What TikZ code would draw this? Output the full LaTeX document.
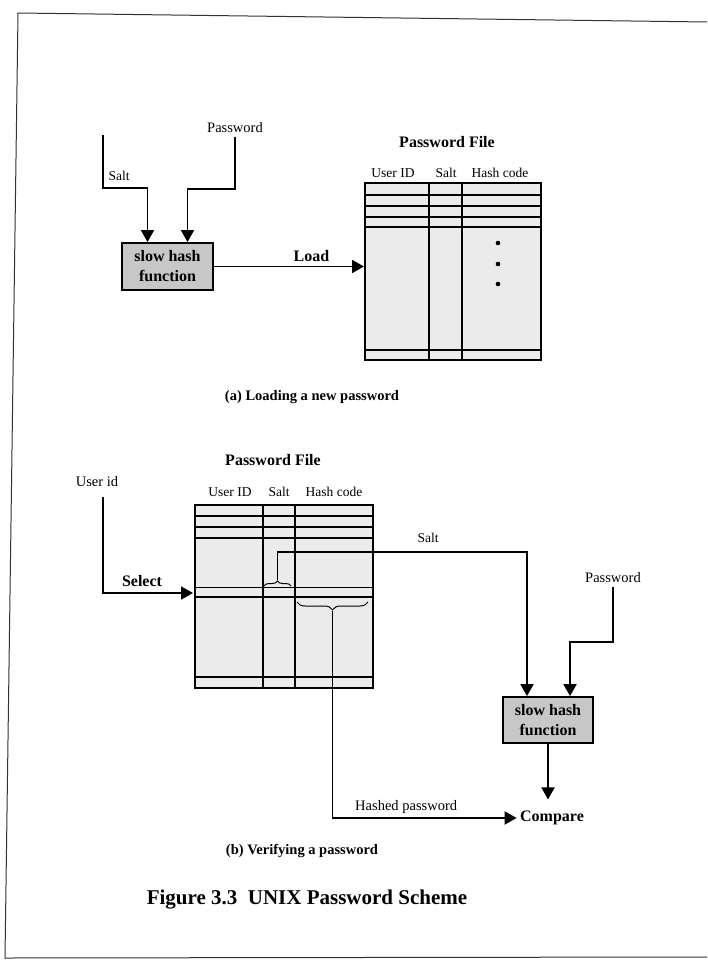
\documentclass[tikz,border=0pt]{standalone}
\usepackage{fontspec}
\setmainfont{Liberation Serif}
\usetikzlibrary{arrows.meta,positioning,decorations.pathreplacing}

\tikzset{
  flow/.style={line width=1.8pt,-{Triangle[length=12pt,width=13pt]}},
  tbl/.style={line width=1.6pt},
  hashbox/.style={draw,line width=1.8pt,fill=black!22,align=center,
    font=\fontsize{16}{20}\selectfont\bfseries,
    minimum width=91pt,minimum height=47pt,inner sep=1pt},
  lbl/.style={font=\fontsize{14.5}{17}\selectfont},
  hdr/.style={font=\fontsize{13.5}{16}\selectfont},
  blbl/.style={font=\fontsize{16}{19}\selectfont\bfseries},
  subcap/.style={font=\fontsize{14.5}{17}\selectfont\bfseries},
  brc/.style={decorate,line width=1pt}
}

\begin{document}
\begin{tikzpicture}[x=1pt,y=-1pt]
\useasboundingbox (0,0) rectangle (707,966);
% page frame
\draw[line width=1pt,black!80] (707,22) -- (18,13) -- (5,958) -- (707,957);

% (a) loading a new password
\node[hashbox] (hashA) at (167.5,266.5) {slow hash\\function};
\node[lbl] (pwA) at (235,128) {Password};
\node[hdr] (saltA) at (119,176) {Salt};
\coordinate (saltInA) at (103,135);
\draw[flow] (saltInA) -- (103,188) -| ([xshift=-20pt]hashA.north);
\draw[flow] (pwA.south) -- ++(0,52) -| ([xshift=20pt]hashA.north);
\coordinate (inA) at (364,266.5);
\draw[flow] (hashA.east) -- node[blbl,pos=0.65,above=1pt]{Load} (inA);

\node[blbl] (pfA) at (447,142) {Password File};
\fill[black!8] (365,183) rectangle (541,360);
\draw[tbl] (365,183) rectangle (541,360);
\foreach \y in {195,206,217,227,350}
  \draw[tbl] (365,\y) -- (541,\y);
\foreach \x in {429,462}
  \draw[tbl] (\x,183) -- (\x,360);
\foreach \y in {243,264,284}
  \fill (498,\y) circle (2.3);
\node[hdr] (uidA) at (393,173) {User ID};
\node[hdr] (slA) at (446,173) {Salt};
\node[hdr] (hcA) at (500,173) {Hash code};
\node[subcap] (capA) at (312,397) {(a) Loading a new password};

% (b) verifying a password
\node[blbl] (pfB) at (273,460) {Password File};
\node[lbl] (uidB) at (97,482) {User id};
\node[hdr] (uidH) at (230,492) {User ID};
\node[hdr] (slH) at (279,492) {Salt};
\node[hdr] (hcH) at (334,492) {Hash code};
\fill[black!8] (195,505) rectangle (373,688);
\draw[tbl] (195,505) rectangle (373,688);
\foreach \y in {516,527,538,597,677}
  \draw[tbl] (195,\y) -- (373,\y);
\draw[line width=1pt] (195,587) -- (373,587);
\foreach \x in {263,295}
  \draw[tbl] (\x,505) -- (\x,688);
\coordinate (inB) at (193,593);
\draw[flow,shorten <=6pt] ([xshift=6pt]uidB.south) |- (inB);
\node[blbl] (selB) at (142,581) {Select};

\draw[brc,decoration={brace,amplitude=5pt}] (264,586) -- (291,586);
\coordinate (saltTip) at (277.5,580);
\node[hdr] (saltB) at (428,538) {Salt};
\node[hashbox,minimum width=90pt,minimum height=46pt] (hashB) at (548,720) {slow hash\\function};
\draw[flow] (saltTip) -- (277.5,552) -| ([xshift=-21pt]hashB.north);
\node[lbl] (pwB) at (613,578) {Password};
\draw[flow] (pwB.south) -- ++(0,55) -| ([xshift=22pt]hashB.north);

\draw[brc,decoration={brace,amplitude=8pt}] (368,602) -- (297,602);
\coordinate (hashTip) at (332.5,611);
\node[blbl] (cmp) at (552,818) {Compare};
\draw[flow] (hashTip) |- node[lbl,pos=0.7,above]{Hashed password} (cmp.west);
\draw[flow,shorten >=8pt] (hashB.south) -- (hashB.south |- cmp.north);
\node[subcap] (capB) at (302,851) {(b) Verifying a password};

\node[font=\fontsize{21}{25}\selectfont\bfseries] (fig) at (307,900) {Figure 3.3\ \ UNIX Password Scheme};
\end{tikzpicture}
\end{document}
